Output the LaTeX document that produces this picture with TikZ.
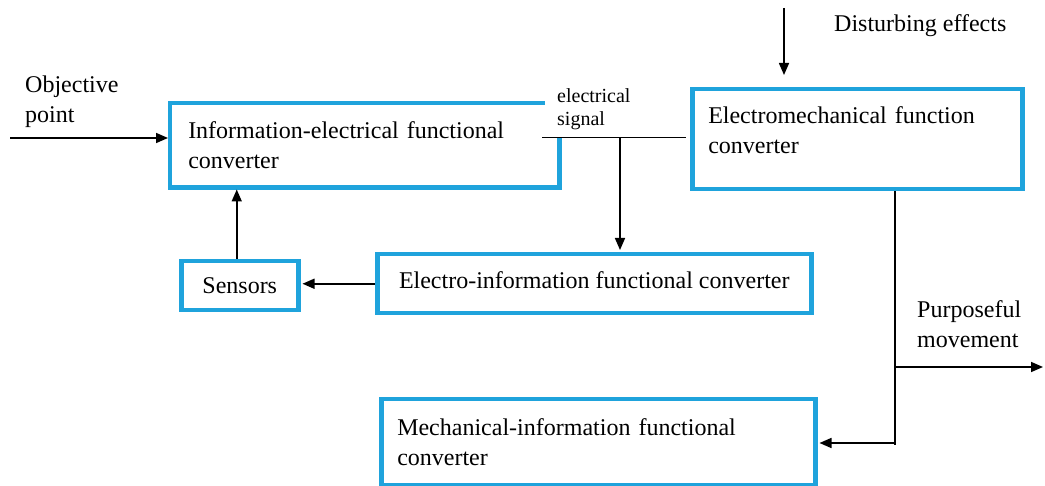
\documentclass[tikz,border=0pt]{standalone}
\usepackage{fontspec}
\setmainfont{Liberation Serif}
\usepackage{tikz}
\usetikzlibrary{arrows.meta,positioning,calc}
\definecolor{boxblue}{HTML}{1FA3DC}

\begin{document}
\begin{tikzpicture}[x=1pt,y=-1pt,font=\fontsize{24}{30}\selectfont,
  conv/.style={draw=boxblue,line width=4.5pt,inner xsep=16pt,inner ysep=0pt,anchor=north west,align=left},
  lbl/.style={inner sep=0pt,anchor=north west,align=left},
  wire/.style={line width=1.6pt},
  sig/.style={wire,shorten >=2pt,-{Triangle[length=12pt,width=10pt]}}]
  \useasboundingbox (0,0) rectangle (1045,486);
  % converters
  \node[conv,draw=none,minimum width=385,minimum height=80,text width=353] (iec) at (170,103) {Information-electrical functional\\converter};
  \node[conv,minimum width=330,minimum height=100,text width=298,text depth=49pt] (emc) at (690,87) {Electromechanical function\\converter};
  \node[conv,minimum width=434,minimum height=59,text depth=7pt] (eic) at (375,252) {Electro-information functional converter};
  \node[conv,minimum width=117,minimum height=49] (sen) at (179,259) {Sensors};
  \node[conv,minimum width=434,minimum height=86,text width=402] (mic) at (379,397) {Mechanical-information functional\\converter};
  % free ends
  \coordinate (objin) at (10,138);
  \coordinate (sigl) at (542,137.5);
  \coordinate (tap) at (620,137.5);
  \coordinate (distin) at (784,8);
  \coordinate (mv) at (895,443);
  \coordinate (pmout) at (1043,367);
  % open outline of the first converter
  \draw[draw=boxblue,line width=4.5pt] ([xshift=-15pt]iec.north east) -- (iec.north west) -- (iec.south west) -- (iec.south east) -- (iec.east |- sigl);
  % labels
  \node[lbl] (objlbl) at (25,76) {Objective\\point};
  \node[lbl,font=\fontsize{20}{23}\selectfont] (siglbl) at (557,88) {electrical\\signal};
  \node[inner sep=0pt,anchor=base west] (dislbl) at (834,31.7) {Disturbing effects};
  \node[lbl] (pmlbl) at (917,300) {Purposeful\\movement};
  % connectors
  \draw[sig] (objin) -- (objin -| iec.west);
  \draw[wire,shorten >=4pt] (sigl) -- (sigl -| emc.west);
  \draw[sig] (tap) -- (tap |- eic.north);
  \draw[sig] (eic.west) -- (eic.west -| sen.east);
  \draw[sig] ([xshift=-3pt]sen.north) -- ([xshift=-3pt]sen.north |- iec.south);
  \draw[sig,shorten >=12pt] (distin) -- (distin |- emc.north);
  \draw[wire] (mv |- emc.south) -- (mv) -- ++(0,2);
  \draw[sig] (mv) -- (mv -| mic.east);
  \draw[sig,shorten >=0pt] (pmout -| mv) -- (pmout);
\end{tikzpicture}
\end{document}
